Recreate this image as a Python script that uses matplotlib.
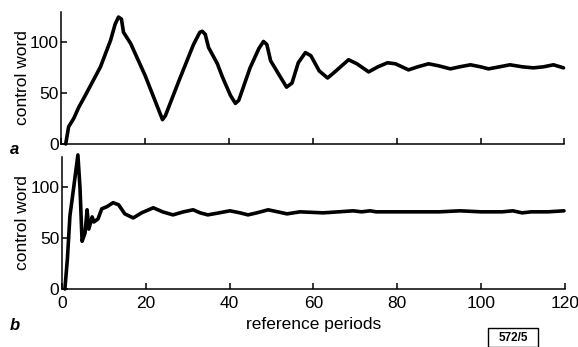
import matplotlib.pyplot as plt
from matplotlib.patches import Rectangle

plt.rcParams['font.family'] = ['Liberation Sans', 'DejaVu Sans']

# panel a: control word vs reference periods
a_x = [1.0, 1.7, 2.9, 4.1, 5.7, 7.5, 9.3, 11.7, 12.8, 13.6, 14.3, 14.8, 16.5,
       20.0, 24.1, 24.8, 28.0, 31.5, 33.0, 33.6, 34.3, 35.1, 37.2, 38.4, 40.3,
       41.5, 42.3, 45.0, 47.1, 48.2, 49.0, 49.9, 51.5, 53.7, 55.0, 56.5, 58.2,
       59.5, 61.5, 63.5, 65.5, 68.5, 70.5, 73.3, 75.5, 77.8, 79.7, 82.8, 85.0,
       87.6, 90.0, 92.8, 95.0, 97.6, 100.0, 101.9, 104.5, 107.0, 110.0, 112.6,
       115.0, 117.4, 119.8]
a_y = [0, 17, 25, 36, 48, 62, 76, 102, 118, 125, 123, 110, 99,
       67, 24, 28, 62, 98, 110, 111, 108, 95, 79, 66, 48,
       40, 43, 75, 94, 101, 98, 82, 71, 56, 60, 80, 90,
       87, 72, 65, 72, 83, 79, 71, 76, 80, 79, 73, 76,
       79, 77, 74, 76, 78, 76, 74, 76, 78, 76, 75,
       76, 78, 75]

# panel b
b_x = [0.7, 1.3, 1.9, 2.8, 3.8, 4.3, 4.8, 5.5, 6.0, 6.4, 7.2, 7.6, 8.6, 9.5,
       10.7, 12.2, 13.5, 15.0, 17.0, 19.0, 21.8, 24.0, 26.5, 29.0, 31.3, 33.0,
       34.8, 37.5, 40.1, 42.5, 44.4, 46.5, 49.2, 51.5, 53.7, 56.8, 62.3, 66.0,
       69.5, 71.5, 73.5, 75.0, 80.0, 90.0, 95.0, 100.0, 105.0, 107.6, 109.8,
       112.0, 116.0, 119.8]
b_y = [0, 30, 72, 100, 132, 100, 47, 55, 78, 59, 71, 66, 69, 79,
       81, 85, 83, 74, 70, 75, 80, 76, 73, 76, 78, 75,
       73, 75, 77, 75, 73, 75, 78, 76, 74, 76, 75, 76,
       77, 76, 77, 76, 76, 76, 77, 76, 76, 77, 75,
       76, 76, 77]

x_ticks = [0, 20, 40, 60, 80, 100, 120]
y_ticks = [0, 50, 100]

fig = plt.figure(figsize=(5.78, 3.47), dpi=100)
ax_a = fig.add_axes([0.1064, 1 - 144 / 347, 0.870, 132 / 347])
ax_b = fig.add_axes([0.1072, 1 - 289 / 347, 0.870, 132 / 347])

for ax, xs, ys in [(ax_a, a_x, a_y), (ax_b, b_x, b_y)]:
    ax.plot(xs, ys, color='black', lw=2.6, solid_joinstyle='round',
            solid_capstyle='round', clip_on=False)
    ax.set_xlim(0, 120)
    ax.set_ylim(0, 130)
    ax.spines['top'].set_visible(False)
    ax.spines['right'].set_visible(False)
    ax.spines['left'].set_linewidth(1.1)
    ax.spines['bottom'].set_linewidth(1.1)
    ax.set_xticks(x_ticks)
    ax.set_yticks(y_ticks)
    ax.tick_params(direction='in', length=4.5, width=1.1, labelsize=12.5, pad=2)
    ax.set_ylabel('control word', fontsize=12.5, labelpad=0)

ax_a.tick_params(axis='x', labelbottom=False)
ax_b.tick_params(axis='x', pad=5)
ax_b.set_xlabel('reference periods', fontsize=12.5, labelpad=4)

fig.text(0.026, 1 - 150 / 347, 'a', fontsize=12, fontstyle='italic',
         fontweight='bold', ha='center', va='center')
fig.text(0.026, 1 - 325 / 347, 'b', fontsize=12, fontstyle='italic',
         fontweight='bold', ha='center', va='center')

fig.patches.append(Rectangle((488 / 578, 0.0), 50 / 578, 19 / 347,
                             transform=fig.transFigure, fill=False,
                             edgecolor='black', lw=1.0))
fig.text(513 / 578, 1 - 338 / 347, '572/5', fontsize=8.5, fontweight='bold',
         ha='center', va='center')

fig.savefig('out.png', dpi=100)
